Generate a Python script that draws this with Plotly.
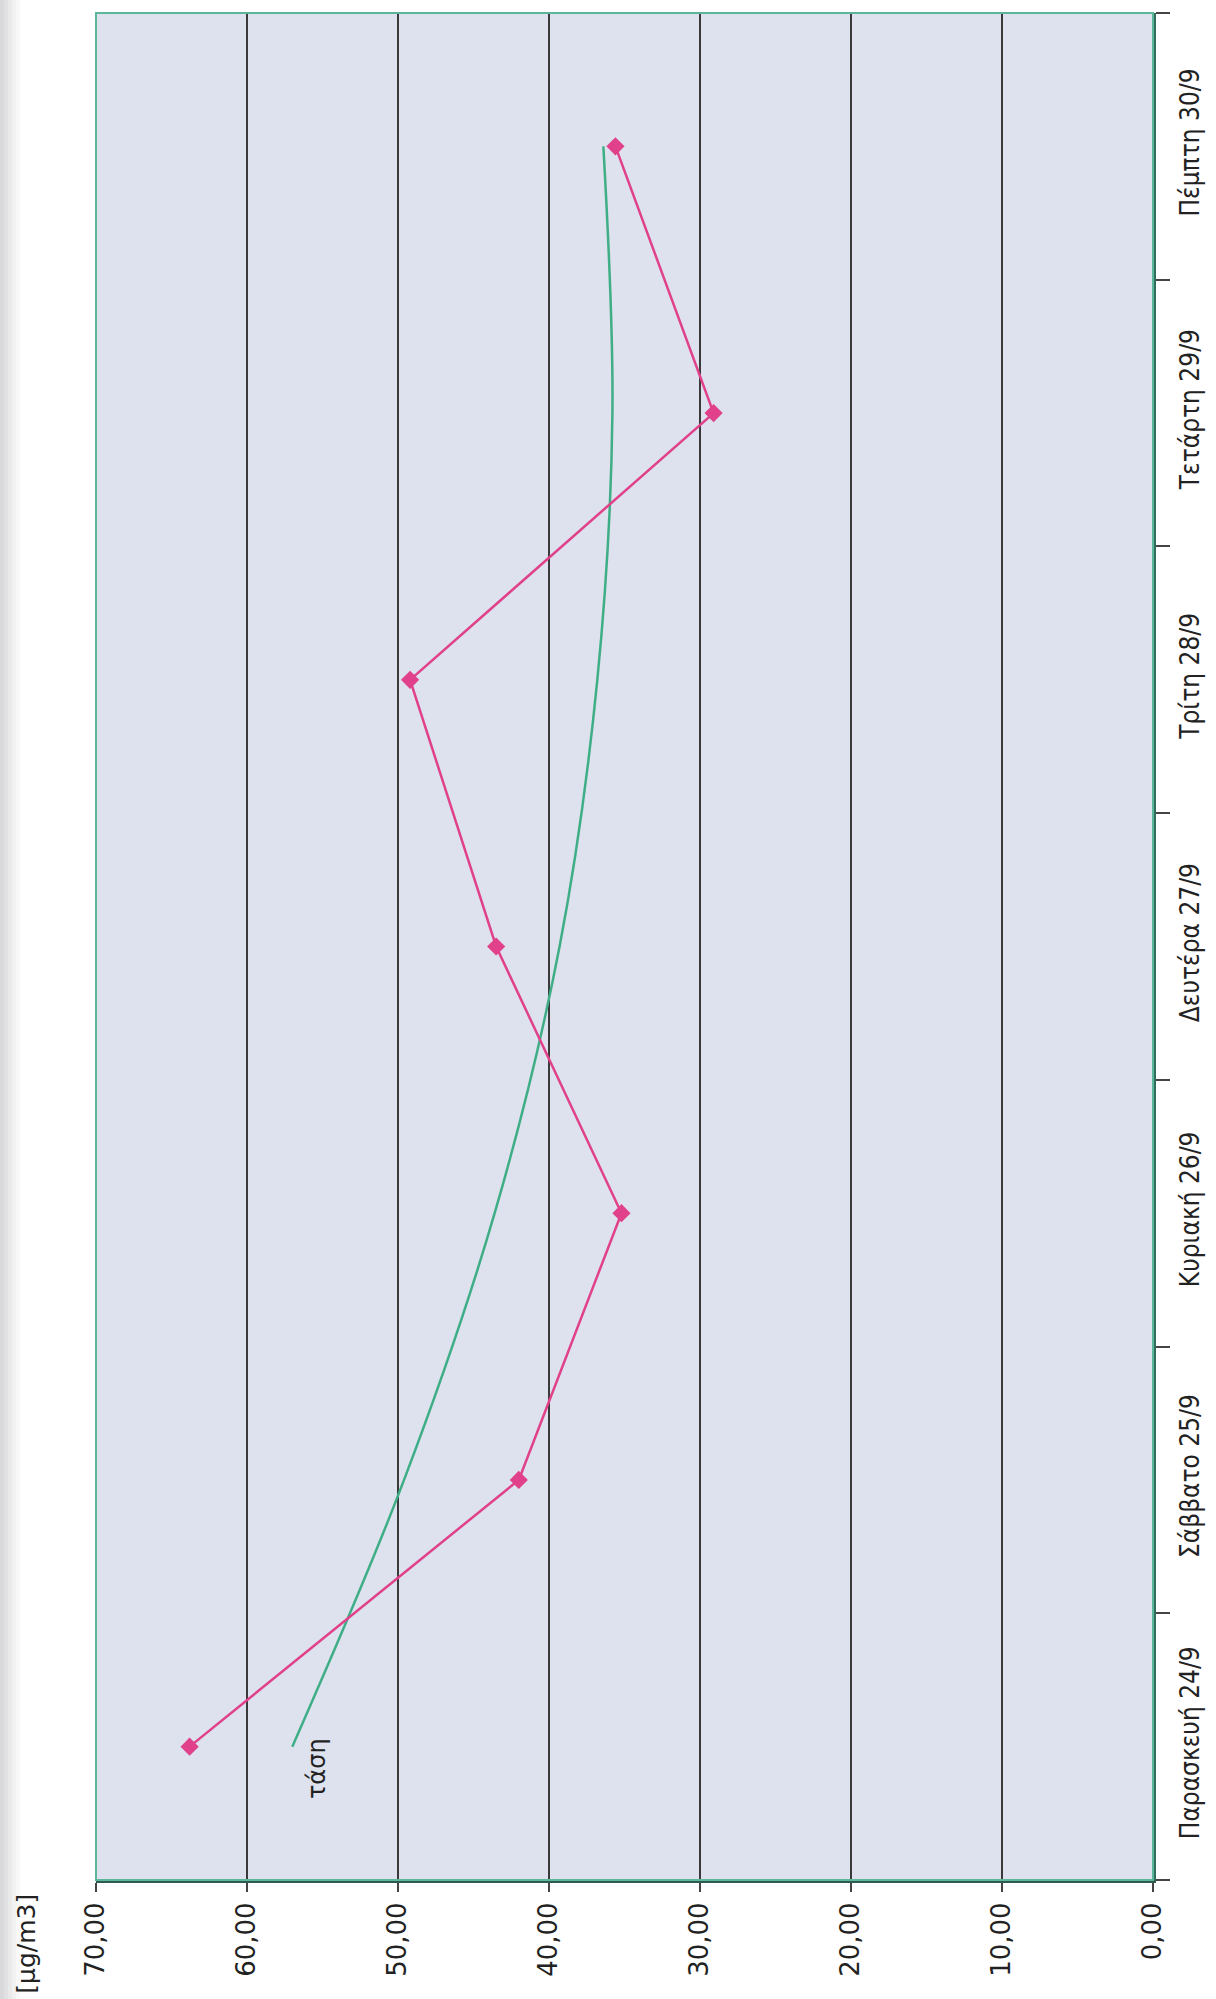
import plotly.graph_objects as go

# Weekly VOC concentrations (μg/m3), one value per day
days = ["Παρασκευή 24/9", "Σάββατο 25/9", "Κυριακή 26/9", "Δευτέρα 27/9",
        "Τρίτη 28/9", "Τετάρτη 29/9", "Πέμπτη 30/9"]
voc = [63.8, 42.0, 35.2, 43.5, 49.2, 29.1, 35.6]
trend = [57.0, 49.6, 43.6, 39.3, 36.8, 35.8, 36.4]

value_ticks = [0, 10, 20, 30, 40, 50, 60, 70]
value_labels = ["0,00", "10,00", "20,00", "30,00", "40,00", "50,00", "60,00", "70,00"]

W, H = 1216, 1999
L, R, T, B = 96, 63, 13, 119

fig = go.Figure()

# trend curve
fig.add_trace(go.Scatter(
    x=trend, y=days, mode="lines", line=dict(color="#3fae86", width=2.5, shape="spline", smoothing=1.0),
    showlegend=False, hoverinfo="skip"))

# measured values
fig.add_trace(go.Scatter(
    x=voc, y=days, mode="lines+markers",
    line=dict(color="#e0418a", width=2.5),
    marker=dict(symbol="diamond", size=14, color="#e0418a"),
    showlegend=False))

fig.update_layout(
    width=W, height=H,
    margin=dict(l=L, r=R, t=T, b=B),
    paper_bgcolor="white",
    plot_bgcolor="#dde2ee",
    font=dict(family="DejaVu Sans", color="#222"),
)

fig.update_xaxes(
    range=[70, 0], tickvals=value_ticks, ticktext=value_labels,
    tickangle=-90, tickfont=dict(size=26, family="DejaVu Sans", color="#222"),
    showgrid=True, gridcolor="#3a3a3a", gridwidth=1.5,
    zeroline=False, showline=True, linecolor="#2f5a50", linewidth=3,
    ticks="outside", ticklen=9, tickcolor="#444", tickwidth=1.5,
)

fig.update_yaxes(
    type="category", categoryorder="array", categoryarray=days,
    side="right", tickangle=-90,
    tickfont=dict(size=26, family="DejaVu Sans Condensed", color="#222"),
    showgrid=False, zeroline=False,
    showline=True, linecolor="#2f6d5e", linewidth=3,
    ticks="outside", tickson="boundaries", ticklen=14, tickcolor="#444", tickwidth=1.5,
    ticklabelstandoff=12,
    range=[-0.5, 6.5],
)

# thin teal frame round the plot area
fig.add_shape(type="rect", xref="paper", yref="paper", x0=0, x1=1, y0=0, y1=1,
              line=dict(color="#5cb79a", width=2), fillcolor="rgba(0,0,0,0)", layer="above")

# unit label
fig.add_annotation(xref="paper", yref="paper", x=-0.066, y=-0.034,
                   xanchor="center", yanchor="middle",
                   text="[μg/m3]", textangle=-90, showarrow=False,
                   font=dict(size=25, family="DejaVu Sans", color="#222"))

# trend label
fig.add_annotation(x=55.4, y=days[0], yshift=-22, text="τάση", textangle=-90,
                   xanchor="center", yanchor="middle",
                   showarrow=False, font=dict(size=24, family="DejaVu Sans", color="#222"))

# soft grey edge on the left of the page
for i, a in enumerate([0.28, 0.22, 0.16, 0.10, 0.05]):
    x0 = (0 + i * 4 - L) / (W - L - R)
    x1 = (4 + i * 4 - L) / (W - L - R)
    fig.add_shape(type="rect", xref="paper", yref="paper", x0=x0, x1=x1,
                  y0=-B / (H - T - B), y1=1 + T / (H - T - B),
                  line=dict(width=0), fillcolor=f"rgba(120,120,125,{a})", layer="below")

fig.write_html("out.html")
